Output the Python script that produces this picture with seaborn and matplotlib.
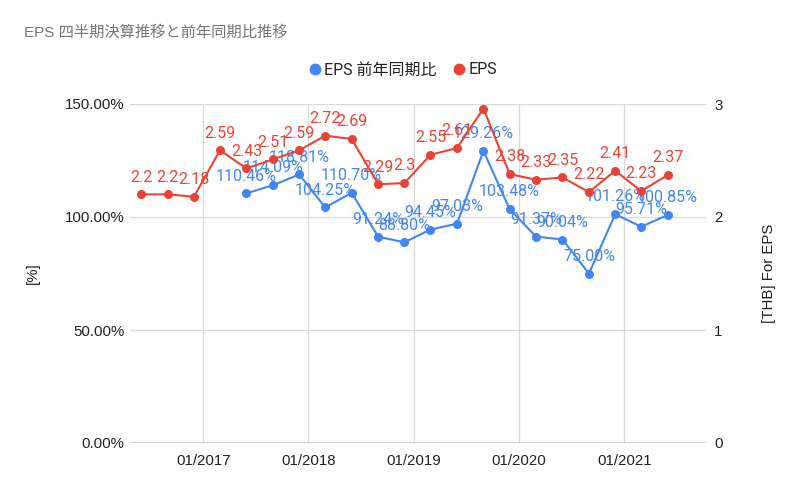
import matplotlib
matplotlib.use("Agg")
import matplotlib.pyplot as plt
import matplotlib.dates as mdates
from matplotlib.lines import Line2D
import seaborn as sns
import pandas as pd

dates = ["2016-05-31", "2016-08-31", "2016-11-30", "2017-02-28", "2017-05-31", "2017-08-31",
         "2017-11-30", "2018-02-28", "2018-05-31", "2018-08-31", "2018-11-30", "2019-02-28",
         "2019-05-31", "2019-08-31", "2019-11-30", "2020-02-29", "2020-05-31", "2020-08-31",
         "2020-11-30", "2021-02-28", "2021-05-31"]
eps = [2.2, 2.2, 2.18, 2.59, 2.43, 2.51, 2.59, 2.72, 2.69, 2.29, 2.3, 2.55, 2.61, 2.96,
       2.38, 2.33, 2.35, 2.22, 2.41, 2.23, 2.37]
eps_labels_shown = [True] * 13 + [False] + [True] * 7
yoy = [None, None, None, None, 110.46, 114.09, 118.81, 104.25, 110.70, 91.24, 88.80, 94.45,
       97.03, 129.26, 103.48, 91.37, 90.04, 75.00, 101.26, 95.71, 100.85]
left_ticks = [0, 50, 100, 150]
right_ticks = [0, 1, 2, 3]
year_ticks = ["2017-01-01", "2018-01-01", "2019-01-01", "2020-01-01", "2021-01-01"]

BLUE = "#4285F4"
RED = "#EA4335"
TXT = "#222222"
ARIAL = ["Liberation Sans", "Noto Sans CJK JP", "DejaVu Sans"]
ROBOTO = ["Roboto", "Noto Sans CJK JP", "DejaVu Sans"]

sns.set_theme(style="white")
plt.rcParams["font.family"] = ARIAL

df = pd.DataFrame({"date": pd.to_datetime(dates), "eps": eps,
                   "yoy": pd.array(yoy, dtype="Float64")})
dfy = df.dropna(subset=["yoy"]).copy()
dfy["yoy"] = dfy["yoy"].astype(float)

fig = plt.figure(figsize=(8, 4.95), dpi=100)
ax = fig.add_axes([130 / 800, 52 / 495, 576 / 800, 339 / 495])
ax2 = ax.twinx()

sns.lineplot(data=dfy, x="date", y="yoy", ax=ax, color=BLUE, marker="o", markersize=6.5,
             markeredgewidth=0, linewidth=1.5, zorder=3)
sns.lineplot(data=df, x="date", y="eps", ax=ax2, color=RED, marker="o", markersize=6.5,
             markeredgewidth=0, linewidth=1.5, zorder=3)

ax.set_ylim(0, 150)
ax2.set_ylim(0, 3)
ax.set_xlim(pd.Timestamp("2016-04-22"), pd.Timestamp("2021-10-11"))

ax.set_yticks(left_ticks)
ax.set_yticklabels([f"{t:.2f}%" for t in left_ticks], fontsize=10.8, color=TXT)
ax2.set_yticks(right_ticks)
ax2.set_yticklabels([str(t) for t in right_ticks], fontsize=10.8, color=TXT)
ax.set_xticks(pd.to_datetime(year_ticks))
ax.xaxis.set_major_formatter(mdates.DateFormatter("%m/%Y"))
ax.tick_params(axis="x", labelsize=10.8, colors=TXT, length=0, pad=8)
ax.tick_params(axis="y", length=0, pad=4)
ax2.tick_params(axis="y", length=0, pad=6)

ax.grid(True, axis="both", color="#d9d9d9", linewidth=0.9)
ax.set_axisbelow(True)
for a in (ax, ax2):
    for s in a.spines.values():
        s.set_visible(False)
ax.axhline(0, color="#333333", linewidth=1.0, zorder=2)

ax.set_xlabel("")
ax.set_ylabel("[%]", fontsize=10.8, color=TXT, labelpad=18)
ax2.set_ylabel("[THB] For EPS", fontsize=10.8, color=TXT, labelpad=28)

# data labels
for d, v in zip(dfy["date"], dfy["yoy"]):
    ax.annotate(f"{v:.2f}%", (d, v), xytext=(0, 7), textcoords="offset points",
                ha="center", va="bottom", fontsize=11.5, color=BLUE, zorder=5,
                family=ROBOTO)
for d, v, show in zip(df["date"], df["eps"], eps_labels_shown):
    if show:
        ax2.annotate(f"{v:g}", (d, v), xytext=(0, 7), textcoords="offset points",
                     ha="center", va="bottom", fontsize=11.5, color=RED, zorder=5,
                     family=ROBOTO)

fig.text(24 / 800, 1 - 33 / 495, "EPS 四半期決算推移と前年同期比推移", fontsize=11,
         color="#757575", va="center", ha="left", family=ARIAL)

handles = [Line2D([], [], color=BLUE, marker="o", linestyle="", markersize=7.5),
           Line2D([], [], color=RED, marker="o", linestyle="", markersize=7.5)]
leg = fig.legend(handles, ["EPS 前年同期比", "EPS"], loc="center",
                 bbox_to_anchor=(402 / 800, 1 - 70 / 495), ncol=2, frameon=False,
                 fontsize=11.5, handletextpad=0.1, columnspacing=0.9, handlelength=1.0)
for t in leg.get_texts():
    t.set_family(ROBOTO)
    t.set_color(TXT)

fig.savefig("out.png", dpi=100)
